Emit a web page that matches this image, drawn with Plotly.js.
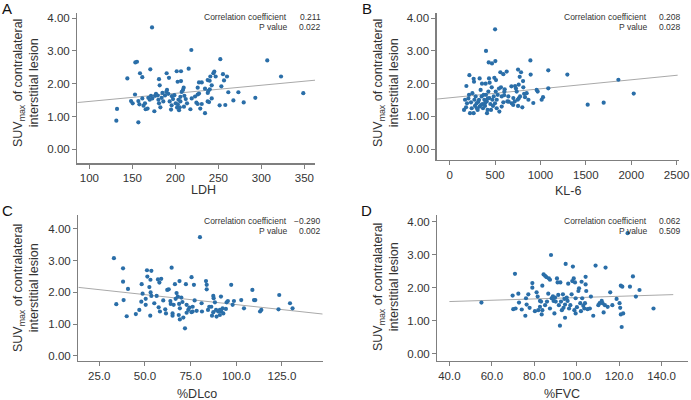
<!DOCTYPE html>
<html><head><meta charset="utf-8">
<script src="https://cdn.plot.ly/plotly-3.0.1.min.js"></script>
<style>html,body{margin:0;padding:0;background:#fff}#chart{width:691px;height:400px}</style>
</head><body><div id="chart"></div>
<script>
// Panel A: LDH
const ldhX = [131.4,132.2,144.2,148.5,150.4,153.1,153.5,155.4,157,157,
158.2,158.9,161.6,161.6,163,164.7,165.5,167.7,168.6,170.2,
170.9,171.7,172.9,173.2,175.6,176.4,177.5,179.5,180.3,181,
181,181.8,182.6,184.1,185,186,188,189.5,189.9,190.3,
191.8,192.6,193.4,195,195.7,196,197.3,198.9,200.4,201.6,
202,202.7,202.8,203.6,204.3,205.1,205.9,205.9,206.6,206.6,
207.4,208.9,209.7,210,210.5,212.1,213.6,215.5,217.5,218.6,
219,222.9,224.5,226,226,226,227.5,227.5,229,230.7,
230.7,234.5,234.5,237.6,237.6,237.7,238.4,239.2,239.9,240,
240.7,242.3,242.3,244.2,245.3,246.9,251.5,252.3,253.5,255.4,
256.6,258.1,260.1,261.6,267.5,273.3,279.5,293,306.9,322.9,
348.8];
const ldhSUV = [0.87,1.23,2.16,1.47,1.40,1.67,2.65,2.67,0.82,1.47,
1.37,2.32,2.20,1.55,1.33,1.40,1.22,1.24,1.57,1.51,
2.44,1.63,3.72,1.55,1.16,1.63,1.69,1.64,1.51,2.14,
1.40,1.95,1.28,1.57,1.72,1.46,1.64,1.75,2.32,1.81,
1.69,2.18,1.46,1.21,1.34,1.62,1.53,1.65,1.40,2.38,
1.27,2.06,1.37,1.51,1.19,1.28,1.46,1.60,2.38,2.08,
1.75,1.81,1.88,1.30,1.63,1.53,1.40,2.46,1.22,3.03,
1.55,1.61,1.42,1.67,1.88,1.38,2.04,1.70,1.24,2.04,
1.38,1.85,1.10,2.11,1.46,1.72,1.78,1.44,2.09,1.83,
2.22,1.95,1.55,2.32,2.37,2.22,1.34,2.75,1.92,2.29,
2.10,1.35,2.22,1.74,1.49,1.74,1.43,1.57,2.71,2.22,
1.71];
// Panel B: KL-6
const kl6X = [500,400,430,466,503,217,184,268,264,330,
433,492,510,356,396,440,558,591,628,889,
753,786,771,808,892,1086,1296,1858,2027,1696,
1520,1086,1013,1028,958,969,921,565,606,646,
635,591,573,547,518,518,738,720,701,716,
753,800,830,848,775,749,867,811,683,158,
180,191,206,224,242,250,272,264,279,297,
308,323,330,341,352,360,367,382,389,400,
408,418,426,437,448,463,470,485,499,507,
529,543,573,602,169,213,235,286,374,411,
477,455,650,700,760,820,600,680,730,315,
345,392,420,300,760];
const kl6SUV = [3.66,3.00,2.65,2.62,2.69,2.26,1.93,2.06,2.15,2.16,
2.16,2.18,2.11,2.00,2.00,2.03,2.35,2.29,2.37,2.71,
2.43,2.35,2.21,2.08,2.28,2.41,2.28,2.12,1.70,1.42,
1.36,1.86,1.51,1.59,1.81,1.76,1.41,1.89,1.83,1.61,
1.46,1.43,1.30,1.15,1.25,1.51,1.76,1.93,1.56,1.46,
1.32,1.28,1.59,1.71,1.61,1.51,1.51,1.89,1.40,1.20,
1.28,1.40,1.55,1.10,1.25,1.71,1.51,1.10,1.32,1.40,
1.20,1.51,1.30,1.81,1.61,1.38,1.25,1.51,1.32,1.66,
1.46,1.20,1.76,1.56,1.38,1.89,1.51,1.61,1.40,1.76,
1.66,1.85,1.61,1.76,1.51,1.66,1.43,1.61,1.66,1.10,
1.32,1.20,1.45,1.35,1.97,1.69,1.65,1.92,1.85,1.45,
1.35,1.42,1.55,1.25,1.55];
// Panel C: %DLco
const dlcoX = [33,38,38,38.3,34.3,40.7,40,45,48.2,48.7,
48,46.9,51.1,51.3,53.5,53,52.4,53.1,53.5,50.4,
50.4,52.9,55.1,56.4,57.1,58.9,57.9,57.5,58.2,61.1,
62.2,63,63.9,64.1,64.6,65.1,65.1,65.7,66.8,66.4,
67.3,68,68.9,68.7,69.1,68.5,69.1,69.9,71,71.9,
72.4,72.8,73.7,74.3,75.5,76.1,76.8,77.2,76.1,78.3,
80.1,81,81.2,83.4,83.8,83.8,84.5,85.2,86.3,86.7,
87.4,87.6,88.3,88.9,89.2,90.1,91,91.6,91.8,92.5,
92.9,94.3,94.7,95.4,97.2,98,98.7,102.7,104.2,108.8,
109.7,110.4,113,113.7,123.5,123.1,129.4,130.8,61.5,72.8,
75.5,87.4,91,60,70.5];
const dlcoSUV = [3.08,2.76,2.34,1.76,1.63,2.11,1.25,1.32,2.26,1.96,
1.71,1.45,2.70,2.50,2.68,2.40,2.17,2.00,1.89,1.80,
1.61,1.27,1.66,1.89,2.41,2.43,2.31,1.53,1.40,1.47,
2.08,2.10,1.73,1.64,2.78,1.34,1.27,1.61,1.80,2.26,
1.98,1.87,2.36,1.64,1.50,1.29,1.15,1.84,1.21,0.87,
2.26,1.36,1.45,1.52,2.48,1.55,2.24,1.75,1.40,1.42,
3.74,1.66,1.40,2.36,2.24,2.10,1.45,1.55,1.55,1.27,
1.89,1.82,1.69,1.45,1.24,1.40,1.29,1.87,1.40,1.50,
1.34,1.48,1.69,1.73,2.24,1.61,1.73,1.76,1.50,2.08,
1.76,1.76,1.40,1.45,1.92,1.47,1.66,1.50,1.34,1.61,
1.38,1.38,1.45,1.75,1.70];
// Panel D: %FVC
const fvcX = [55.1,70.9,69.8,70.1,71.2,72.5,72.8,74.1,75.8,76.1,
76.4,77.2,77.8,79.1,79.1,80.3,81.1,81.6,81.9,82.7,
83.2,83.5,83.8,83.8,84.4,85.1,85.7,86,86.6,86.9,
87.4,87.9,88.2,88.8,89.1,89.5,89.8,90.1,90.7,91,
91.3,91.6,92.1,92.3,92.6,93.5,93.8,94.5,94.5,94.8,
95.3,96,96.4,97,97.6,97.9,98.2,98.6,98.9,99.2,
99.5,100.1,100.8,101.1,101.7,102,102.3,102.6,103.1,103.6,
103.9,104.2,104.2,104.5,105.1,106.2,106.7,107.8,108.9,110.2,
110.8,111.8,112.2,112.7,113.3,113.6,114.6,115.8,116.8,118.8,
120.2,120.5,120.8,121.5,120.8,121.9,121.2,125.1,126.5,127.9,
129.6,136.2,124,87.4,93,85.1,82.7,95.7,99.5,94.2];
const fvcSUV = [1.55,2.42,1.76,1.35,1.37,1.82,1.55,1.34,1.15,1.68,
1.49,1.80,1.39,2.14,2.00,1.29,1.86,1.73,1.32,1.60,
1.58,1.19,2.06,1.32,2.40,2.36,2.32,1.58,1.82,2.28,
2.24,2.99,1.68,1.74,1.60,1.22,1.70,1.58,2.28,2.16,
1.78,1.47,0.85,2.16,1.58,1.80,1.39,1.49,1.09,2.72,
1.70,2.12,1.37,1.47,1.80,2.20,2.64,2.28,1.32,2.16,
1.22,1.41,1.90,1.98,1.53,1.29,2.18,1.68,1.45,1.37,
1.53,2.10,2.33,1.90,1.35,1.37,1.73,1.15,2.67,1.47,
1.53,1.60,1.53,1.25,1.47,2.61,1.42,1.86,1.47,1.66,
1.53,1.39,2.06,2.03,1.19,1.22,0.81,2.03,2.34,1.73,
1.93,1.37,3.65,1.37,1.32,1.47,1.42,1.60,1.68,1.66];
// Fitted regression lines (end points)
const fitAx = [86, 362.4], fitAy = [1.425, 2.107];
const fitBx = [-143, 2511], fitBy = [1.53, 2.26];
const fitCx = [13.5, 147.3], fitCy = [2.16, 1.32];
const fitDx = [40, 145.5], fitDy = [1.58, 1.79];
// Text
const panelLetters = ['A','B','C','D'];
const xTitles = ['LDH','KL-6','%DLco','%FVC'];
const corrCoef = ['0.211','0.208','\u22120.290','0.062'];
const pValues = ['0.022','0.028','0.002','0.509'];
const yTitle = 'SUV<sub>max</sub> of contralateral<br>interstitial lesion';

const FONT = 'Liberation Sans, Arial, Helvetica, sans-serif';
const W = 691, H = 400;
const px = v => v / W, py = v => 1 - v / H;
const blue = '#2a6ea8', lineGray = '#a9a9a9', axGray = '#7f7f7f', txt = '#333333';

const panels = [
  {xs: ldhX, ys: ldhSUV, fx: fitAx, fy: fitAy, xd:[77.3,315], yd:[163.3,13.3], xr:[86,362.4], yr:[-0.43,4.15], dt:50, fmt:'d',
   ytc:[26,83], xtc:[203,190], let:[7,8], ann:[288.7,322.7,16.7,27.3]},
  {xs: kl6X, ys: kl6SUV, fx: fitBx, fy: fitBy, xd:[436.7,679.3], yd:[160,13.3], xr:[-143,2529], yr:[-0.33,4.15], dt:500, fmt:'d',
   ytc:[386,83], xtc:[568,190.5], let:[367,8], ann:[649,683,16.7,27.3]},
  {xs: dlcoX, ys: dlcoSUV, fx: fitCx, fy: fitCy, xd:[78.3,322.7], yd:[360.7,215], xr:[13.5,147.3], yr:[-0.15,4.44], dt:25, fmt:'.1f',
   ytc:[26,288], xtc:[197,394], let:[7,210], ann:[288.7,322.7,220.7,231]},
  {xs: fvcX, ys: fvcSUV, fx: fitDx, fy: fitDy, xd:[437.3,688.3], yd:[360.7,215], xr:[34.3,152.6], yr:[-0.21,4.2], dt:20, fmt:'.1f',
   ytc:[386,287], xtc:[562,394], let:[367,210], ann:[649,683,220.7,231]}
];

const data = [], annotations = [];
const layout = {
  width: W, height: H, margin: {l:0, r:0, t:0, b:0},
  paper_bgcolor: '#fff', plot_bgcolor: '#fff', showlegend: false,
  font: {family: FONT, color: txt, size: 11}
};
panels.forEach((p, i) => {
  const n = i === 0 ? '' : String(i + 1);
  const xa = 'x' + n, ya = 'y' + n;
  data.push({x: p.fx, y: p.fy, xaxis: xa, yaxis: ya, type: 'scatter', mode: 'lines',
             line: {color: lineGray, width: 1}, hoverinfo: 'skip', cliponaxis: false});
  data.push({x: p.xs, y: p.ys, xaxis: xa, yaxis: ya, type: 'scatter', mode: 'markers',
             marker: {color: blue, size: 4.2, line: {width: 0}}});
  const common = {showgrid: false, zeroline: false, showline: true, linecolor: axGray, linewidth: 1.3,
                  ticks: 'outside', ticklen: 4, tickwidth: 1, tickcolor: axGray,
                  tickfont: {family: FONT, size: 11.5, color: txt}};
  layout['xaxis' + n] = Object.assign({}, common, {domain: [px(p.xd[0]), px(p.xd[1])], range: p.xr,
      dtick: p.dt, tick0: 0, tickformat: p.fmt, anchor: ya});
  layout['yaxis' + n] = Object.assign({}, common, {domain: [py(p.yd[0]), py(p.yd[1])], range: p.yr,
      dtick: 1, tick0: 0, tickformat: '.2f', anchor: xa});
  annotations.push({xref:'paper', yref:'paper', x: px(p.ytc[0]), y: py(p.ytc[1]), text: yTitle, textangle: -90,
      showarrow:false, xanchor:'center', yanchor:'middle', font:{family: FONT, size: 12.5, color: txt}});
  annotations.push({xref:'paper', yref:'paper', x: px(p.xtc[0]), y: py(p.xtc[1]), text: xTitles[i],
      showarrow:false, xanchor:'center', yanchor:'middle', font:{family: FONT, size: 12.5, color: txt}});
  annotations.push({xref:'paper', yref:'paper', x: px(p.let[0]), y: py(p.let[1]), text: panelLetters[i],
      showarrow:false, xanchor:'center', yanchor:'middle', font:{family: FONT, size: 15, color: '#111'}});
  const af = {family: FONT, size: 8.5, color: txt};
  annotations.push({xref:'paper', yref:'paper', x: px(p.ann[0]), y: py(p.ann[2]), text: 'Correlation coefficient',
      showarrow:false, xanchor:'right', yanchor:'middle', font: af});
  annotations.push({xref:'paper', yref:'paper', x: px(p.ann[0]), y: py(p.ann[3]), text: 'P value',
      showarrow:false, xanchor:'right', yanchor:'middle', font: af});
  annotations.push({xref:'paper', yref:'paper', x: px(p.ann[1]), y: py(p.ann[2]), text: corrCoef[i],
      showarrow:false, xanchor:'right', yanchor:'middle', font: af});
  annotations.push({xref:'paper', yref:'paper', x: px(p.ann[1]), y: py(p.ann[3]), text: pValues[i],
      showarrow:false, xanchor:'right', yanchor:'middle', font: af});
});
layout.annotations = annotations;
Plotly.newPlot('chart', data, layout, {displayModeBar: false, staticPlot: true});
</script></body></html>
